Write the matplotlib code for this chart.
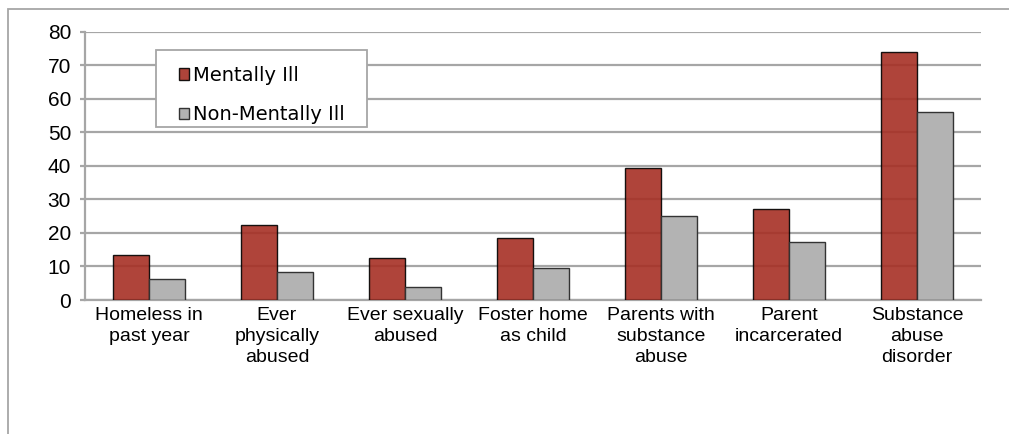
import matplotlib
matplotlib.use("Agg")
import matplotlib.pyplot as plt
import numpy as np
from matplotlib.patches import Rectangle

categories = [
    "Homeless in\npast year",
    "Ever\nphysically\nabused",
    "Ever sexually\nabused",
    "Foster home\nas child",
    "Parents with\nsubstance\nabuse",
    "Parent\nincarcerated",
    "Substance\nabuse\ndisorder",
]
mentally_ill = [13.3, 22.4, 12.5, 18.4, 39.2, 27.2, 74.0]
non_mentally_ill = [6.3, 8.3, 3.8, 9.4, 25.1, 17.3, 56.0]
yticks = [0, 10, 20, 30, 40, 50, 60, 70, 80]

red = "#a62f24"
grey = "#b3b3b3"
line_grey = "#a6a6a6"

W, H = 1009, 434
fig = plt.figure(figsize=(W / 100, H / 100), dpi=100)


def px(x0, y0):
    # pixel position (from top-left) -> figure fraction
    return x0 / W, 1 - y0 / H


# outer frame, only top and left edges fall inside the image
fig.patches.append(Rectangle((8 / W, -0.1), 1.2, (H - 9) / H + 0.1,
                             transform=fig.transFigure, fill=False,
                             edgecolor=line_grey, linewidth=1.3, zorder=0))

ax = fig.add_axes([85 / W, 1 - 300 / H, (981 - 85) / W, (300 - 31.5) / H])

x = np.arange(len(categories))
bw = 0.285
ax.bar(x - bw / 2, mentally_ill, bw, color=red, alpha=0.9,
       edgecolor="black", linewidth=1.0, zorder=3, label="Mentally Ill")
ax.bar(x + bw / 2, non_mentally_ill, bw, color=grey,
       edgecolor="#333333", linewidth=1.0, zorder=3, label="Non-Mentally Ill")

ax.set_xlim(-0.5, len(categories) - 0.5)
ax.set_ylim(0, 80)
ax.set_yticks(yticks)
ax.set_xticks(x)
ax.set_xticklabels(categories, fontsize=14, family="Liberation Sans",
                   linespacing=1.3)
for lab in ax.get_yticklabels():
    lab.set_fontsize(15)
    lab.set_family("Liberation Sans")

ax.yaxis.grid(True, color=line_grey, linewidth=1.6, zorder=1)
ax.set_axisbelow(True)
for s in ["top", "right"]:
    ax.spines[s].set_visible(False)
for s in ["left", "bottom"]:
    ax.spines[s].set_color(line_grey)
    ax.spines[s].set_linewidth(1.6)
ax.tick_params(axis="y", length=3.5, width=1.6, color=line_grey, pad=6.5)
ax.tick_params(axis="x", length=0, pad=5)

# legend box drawn separately so its padding can be set freely
bx0, by0 = px(156, 127)
bx1, by1 = px(367, 50)
fig.patches.append(Rectangle((bx0, by0), bx1 - bx0, by1 - by0,
                             transform=fig.transFigure, facecolor="white",
                             edgecolor=line_grey, linewidth=1.3, zorder=4))

leg = fig.legend(loc="upper left", bbox_to_anchor=px(179, 66),
                 borderaxespad=0, borderpad=0, frameon=False,
                 handlelength=0.52, handleheight=0.52, handletextpad=0.2,
                 labelspacing=1.05,
                 prop={"family": "DejaVu Sans", "size": 14})
leg.set_zorder(5)

fig.savefig("out.png", dpi=100)
